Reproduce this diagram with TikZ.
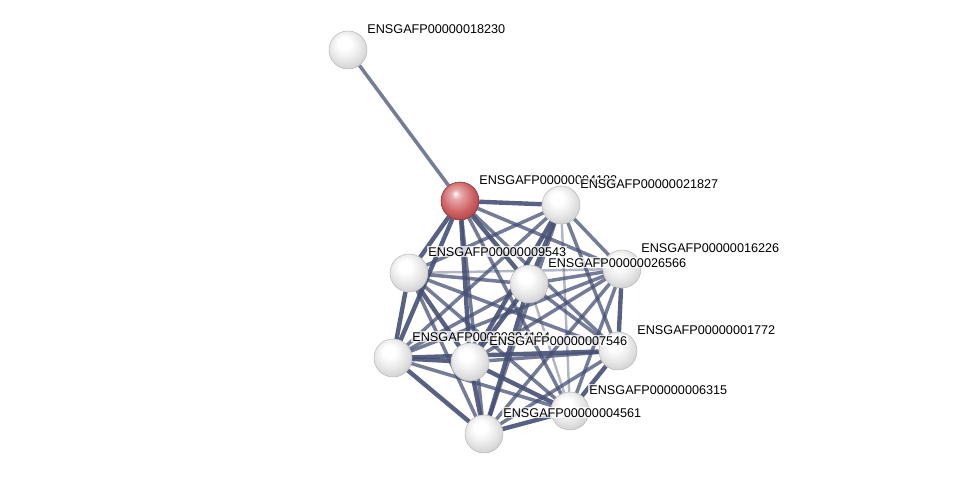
\documentclass[tikz,border=0pt]{standalone}
\usepackage{fontspec}
\setmainfont{Liberation Sans}
\usetikzlibrary{backgrounds}
\definecolor{Edge}{HTML}{465074}
\definecolor{Query}{HTML}{C8484B}
\pgfdeclareradialshading{lightball}{\pgfpoint{-6bp}{10bp}}{color(0bp)=(white); color(8bp)=(white); color(20bp)=(gray!18); color(32bp)=(gray!40); color(50bp)=(gray!55)}
\pgfdeclareradialshading{redball}{\pgfpoint{-6bp}{10bp}}{color(0bp)=(white); color(6bp)=(Query!45!white); color(20bp)=(Query!85!white); color(32bp)=(Query!85!black); color(50bp)=(Query!65!black)}
\begin{document}
\begin{tikzpicture}[x=0.02cm,y=-0.02cm,
  prot/.style={circle,draw=gray!55,line width=0.3pt,shading=lightball,minimum size=0.76cm,inner sep=0pt},
  query/.style={prot,shading=redball,draw=Query!60!black},
  tag/.style={anchor=base west,font=\fontsize{7.2}{8}\selectfont,fill=white,fill opacity=0.75,text opacity=1,inner sep=0.6pt},
  strong/.style={draw=Edge,line width=2.5pt,opacity=0.9},
  medium/.style={draw=Edge,line width=2pt,opacity=0.75},
  weak/.style={draw=Edge,line width=1.4pt,opacity=0.42}
]
\useasboundingbox (0,0) rectangle (975,480);
\node[prot] (p18230) at (348,50) {};
\node[query] (p04182) at (460,201) {};
\node[prot] (p21827) at (561,205) {};
\node[prot] (p16226) at (622,269) {};
\node[prot] (p09543) at (409,273) {};
\node[prot] (p26566) at (529,284) {};
\node[prot] (p04184) at (393,358) {};
\node[prot] (p07546) at (470,362) {};
\node[prot] (p01772) at (618,351) {};
\node[prot] (p06315) at (570,411) {};
\node[prot] (p04561) at (484,434) {};
\begin{scope}[on background layer]
\foreach \a/\b/\s in {p18230/p04182/medium,
  p04182/p21827/strong,p04182/p09543/strong,p04182/p26566/strong,p04182/p04184/strong,p04182/p07546/strong,
  p04182/p04561/medium,p04182/p16226/medium,p04182/p01772/medium,p04182/p06315/medium,
  p21827/p09543/medium,p21827/p26566/strong,p21827/p16226/medium,p21827/p04184/medium,p21827/p07546/strong,
  p21827/p01772/medium,p21827/p06315/weak,p21827/p04561/medium,
  p16226/p09543/weak,p16226/p26566/medium,p16226/p04184/medium,p16226/p07546/medium,p16226/p01772/strong,
  p16226/p06315/medium,p16226/p04561/medium,
  p09543/p26566/medium,p09543/p04184/strong,p09543/p07546/strong,p09543/p01772/medium,p09543/p06315/medium,
  p09543/p04561/medium,
  p26566/p04184/medium,p26566/p07546/strong,p26566/p01772/medium,p26566/p06315/weak,p26566/p04561/strong,
  p04184/p07546/strong,p04184/p01772/strong,p04184/p06315/medium,p04184/p04561/strong,
  p07546/p01772/medium,p07546/p06315/strong,p07546/p04561/strong,
  p01772/p06315/strong,p01772/p04561/medium,p06315/p04561/strong} {
  \draw[\s] (\a) -- (\b);
}
\end{scope}
\foreach \n/\t in {p18230/ENSGAFP00000018230,p04182/ENSGAFP00000004182,p21827/ENSGAFP00000021827,
  p16226/ENSGAFP00000016226,p09543/ENSGAFP00000009543,p26566/ENSGAFP00000026566,
  p04184/ENSGAFP00000004184,p07546/ENSGAFP00000007546,p01772/ENSGAFP00000001772,
  p06315/ENSGAFP00000006315,p04561/ENSGAFP00000004561} {
  \node[tag] (t\n) at ([xshift=0.36cm,yshift=0.34cm]\n.center) {\t};
}
\end{tikzpicture}
\end{document}
